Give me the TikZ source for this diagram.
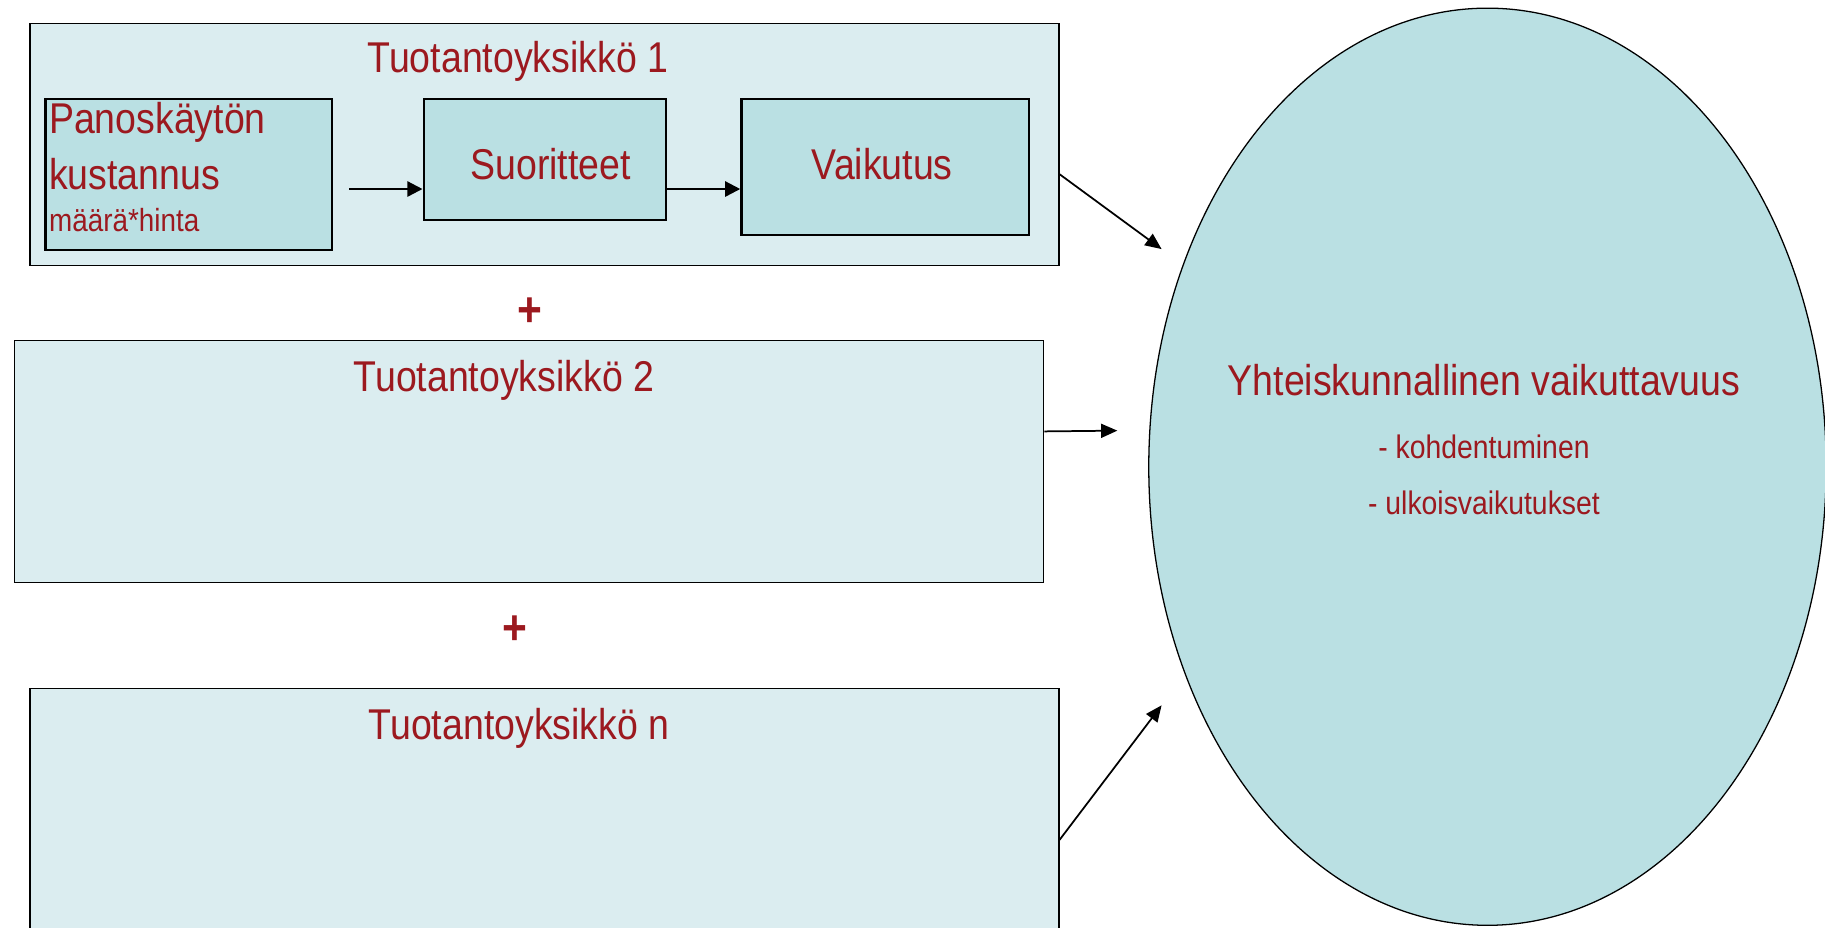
\documentclass[tikz,border=0pt]{standalone}
\usepackage{fontspec}
\setmainfont{Liberation Sans}[FakeStretch=0.87]
\usetikzlibrary{arrows.meta,calc,shapes.geometric}
\definecolor{ttred}{rgb}{0.61,0.1,0.12}
\definecolor{ttpale}{rgb}{0.86,0.93,0.94}
\definecolor{ttcyan}{rgb}{0.73,0.88,0.89}

\begin{document}
\begin{tikzpicture}[x=1pt,y=-1pt,
  unitbox/.style={draw,line width=1.3pt,fill=ttpale,anchor=north west,inner sep=0pt},
  stagebox/.style={draw,line width=2pt,fill=ttcyan,anchor=north west,inner sep=0pt},
  flow/.style={line width=2pt,-{Triangle[length=13pt,width=13pt]}},
  link/.style={line width=1.5pt,-{Triangle[length=14pt,width=12pt]}},
  big/.style={font=\fontsize{37}{44}\selectfont,text=ttred,inner sep=0pt},
  small/.style={font=\fontsize{28}{34}\selectfont,text=ttred,inner sep=0pt}]
\useasboundingbox (0,0) rectangle (1568,797);
\clip (0,0) rectangle (1568,797);
% production units
\node [unitbox,minimum width=884pt,minimum height=208pt] (unit1) at (25,19.5) {};
\node [unitbox,minimum width=884pt,minimum height=208pt] (unit2) at (12,292) {};
\node [unitbox,minimum width=884pt,minimum height=260pt] (unitn) at (25,591) {};
\node [big,anchor=base] (title1) at (445,62.5) {Tuotantoyksikkö 1};
\node [big,anchor=base] (title2) at (433,336) {Tuotantoyksikkö 2};
\node [big,anchor=base] (titlen) at (446,635) {Tuotantoyksikkö n};
% stages inside unit 1
\node [stagebox,minimum width=246pt,minimum height=130pt] (panos) at (38,84) {};
\node [stagebox,minimum width=208pt,minimum height=104pt] (suor) at (363,84) {};
\node [stagebox,minimum width=247pt,minimum height=117pt] (vaik) at (636,84) {};
\node [big,anchor=base west] (panos1) at (42,114.5) {Panoskäytön};
\node [big,anchor=base west] (panos2) at (42,162.7) {kustannus};
\node [small,anchor=base west,font=\fontsize{27.5}{33}\selectfont] (panos3) at (42,199) {määrä*hinta};
\node [big,anchor=base] (suortxt) at (473,154) {Suoritteet};
\node [big,anchor=base] (vaiktxt) at (758,154) {Vaikutus};
\coordinate (lane) at (0,162.4);
\draw [flow] ($(panos.east |- lane)+(14,0)$) -- (suor.west |- lane);
\draw [flow] (suor.east |- lane) -- (vaik.west |- lane);
% plus signs
\node [text=ttred,font=\fontsize{42}{48}\selectfont\bfseries,inner sep=0pt] (plus1) at (455.5,268.5) {+};
\node [text=ttred,font=\fontsize{42}{48}\selectfont\bfseries,inner sep=0pt] (plus2) at (442.5,541) {+};
% societal effectiveness
\node [ellipse,draw,line width=1.1pt,fill=ttcyan,minimum width=582pt,minimum height=788pt,inner sep=0pt] (effect) at (1278,401) {};
\node [big,anchor=base] (efftitle) at (1275,339.5) {Yhteiskunnallinen vaikuttavuus};
\node [small,anchor=base] (eff1) at (1275,394) {- kohdentuminen};
\node [small,anchor=base] (eff2) at (1275,442) {- ulkoisvaikutukset};
\coordinate (in1) at (998,214);
\coordinate (in2) at (960,370);
\coordinate (inn) at (998,606);
\draw [link] ($(unit1.east)+(0,25.5)$) -- (in1);
\draw [link] ($(unit2.east)+(0,-26)$) -- (in2);
\draw [link] (unitn.east) -- (inn);
\end{tikzpicture}
\end{document}
